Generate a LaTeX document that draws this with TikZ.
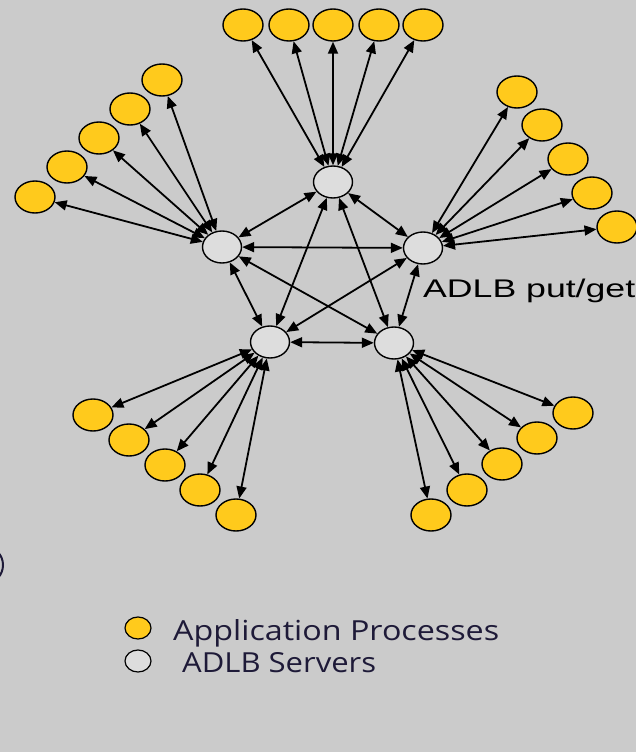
\documentclass[tikz,border=0pt]{standalone}
\usepackage{fontspec}
\setmainfont{Liberation Sans}
\newfontfamily\legendfont{Open Sans}
\usetikzlibrary{shapes.geometric,arrows.meta}
\definecolor{bgcol}{HTML}{CBCBCB}
\definecolor{appcol}{HTML}{FFCA1C}
\definecolor{srvcol}{HTML}{DDDDDD}
\definecolor{txtcol}{HTML}{1E1A38}
\begin{document}
\begin{tikzpicture}[x=1pt,y=-1pt,
  appnode/.style={ellipse,draw=black,line width=1.4pt,fill=appcol,minimum width=40pt,minimum height=32pt,inner sep=0pt},
  srvnode/.style={ellipse,draw=black,line width=1.4pt,fill=srvcol,minimum width=39pt,minimum height=32pt,inner sep=0pt},
  link/.style={line width=1.8pt,{Triangle[length=12pt,width=10pt]}-{Triangle[length=12pt,width=10pt]}},
  legapp/.style={ellipse,draw=black,line width=1.2pt,fill=appcol,minimum width=26pt,minimum height=22pt,inner sep=0pt},
  legsrv/.style={ellipse,draw=black,line width=1.2pt,fill=srvcol,minimum width=26pt,minimum height=22pt,inner sep=0pt}]
\fill[bgcol] (0,0) rectangle (636,752);
\useasboundingbox (0,0) rectangle (636,752);
% partial shape at left edge
\begin{scope}
\clip (0,0) rectangle (636,752);
\draw[txtcol,line width=2pt] (-14,565) ellipse (17pt and 18pt);
\end{scope}
% servers
\node[srvnode] (st) at (333,182) {};
\node[srvnode] (sl) at (222,247) {};
\node[srvnode] (sr) at (423,248) {};
\node[srvnode] (sbl) at (270,342) {};
\node[srvnode] (sbr) at (394,343) {};
% top group
\node[appnode] (t1) at (243,25) {};
\node[appnode] (t2) at (289,25) {};
\node[appnode] (t3) at (333,25) {};
\node[appnode] (t4) at (379,25) {};
\node[appnode] (t5) at (423,25) {};
% left group
\node[appnode] (l1) at (162,80) {};
\node[appnode] (l2) at (130,109) {};
\node[appnode] (l3) at (99,138) {};
\node[appnode] (l4) at (67,167) {};
\node[appnode] (l5) at (35,197) {};
% right group
\node[appnode] (r1) at (517,92) {};
\node[appnode] (r2) at (542,125) {};
\node[appnode] (r3) at (568,159) {};
\node[appnode] (r4) at (592,193) {};
\node[appnode] (r5) at (617,227) {};
% bottom-left group
\node[appnode] (bl1) at (93,415) {};
\node[appnode] (bl2) at (129,440) {};
\node[appnode] (bl3) at (165,465) {};
\node[appnode] (bl4) at (200,490) {};
\node[appnode] (bl5) at (236,515) {};
% bottom-right group
\node[appnode] (br1) at (573,413) {};
\node[appnode] (br2) at (537,438) {};
\node[appnode] (br3) at (502,464) {};
\node[appnode] (br4) at (467,490) {};
\node[appnode] (br5) at (431,515) {};
% app links
\foreach \a in {t1,t2,t3,t4,t5} \draw[link] (st) -- (\a);
\foreach \a in {l1,l2,l3,l4,l5} \draw[link] (sl) -- (\a);
\foreach \a in {r1,r2,r3,r4,r5} \draw[link] (sr) -- (\a);
\foreach \a in {bl1,bl2,bl3,bl4,bl5} \draw[link] (sbl) -- (\a);
\foreach \a in {br1,br2,br3,br4,br5} \draw[link] (sbr) -- (\a);
% server links
\draw[link] (st) -- (sl);
\draw[link] (st) -- (sr);
\draw[link] (sl) -- (sr);
\draw[link] (sl) -- (sbl);
\draw[link] (sr) -- (sbr);
\draw[link] (sbl) -- (sbr);
\draw[link] (st) -- (sbl);
\draw[link] (st) -- (sbr);
\draw[link] (sl) -- (sbr);
\draw[link] (sr) -- (sbl);
% label
\node[anchor=base west,inner sep=0pt,text=black] (put) at (423,297) {\resizebox{212pt}{18.5pt}{ADLB put/get}};
% legend
\node[legapp] (la) at (138,628) {};
\node[legsrv] (ls) at (138,661) {};
\node[anchor=base west,inner sep=0pt,text=txtcol] (lat) at (173,640) {\resizebox{326pt}{21pt}{\legendfont Application Processes}};
\node[anchor=base west,inner sep=0pt,text=txtcol] (lst) at (182,672) {\resizebox{194pt}{20pt}{\legendfont ADLB Servers}};
\end{tikzpicture}
\end{document}
